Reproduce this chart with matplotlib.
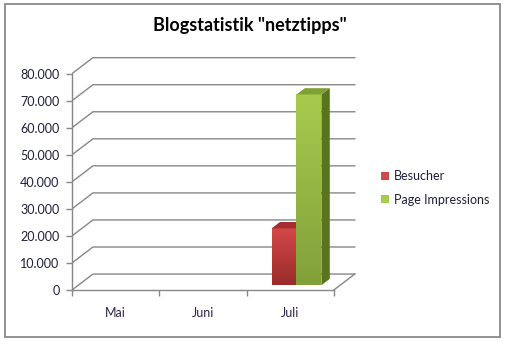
import numpy as np
import matplotlib
matplotlib.use("Agg")
import matplotlib.pyplot as plt
from matplotlib.patches import Polygon, Rectangle, Patch
from matplotlib.colors import LinearSegmentedColormap

# Daten
monate = ["Mai", "Juni", "Juli"]
besucher = [0, 0, 21000]
page_impressions = [0, 0, 70500]
serien = ["Besucher", "Page Impressions"]
y_ticks = [0, 10000, 20000, 30000, 40000, 50000, 60000, 70000, 80000]

plt.rcParams["font.family"] = ["Lato", "DejaVu Sans"]
text_farbe = "#1f1f3a"
grid_farbe = "#878787"

fig = plt.figure(figsize=(5.09, 3.44), dpi=100)
W, H = 509, 344

# Rahmen um das Diagramm
fig.patches.append(Rectangle((5 / W, 7 / H), 495 / W, 333 / H, transform=fig.transFigure,
                             fill=False, edgecolor="#888888", linewidth=1.3))

fig.text(250 / W, 1 - 25 / H, 'Blogstatistik "netztipps"', ha="center", va="center",
         fontsize=13, fontweight="bold", color="black")

# Achse: 0..3 Kategorien auf der Vorderkante, Tiefe als Versatz
ax = fig.add_axes([72 / W, 54 / H, 288 / W, 238 / H])
ax.set_xlim(0, 3.3)
ax.set_ylim(0, 88000)
ax.patch.set_alpha(0)

ddx, ddy = 0.24, 5900   # Versatz der Rueckwand

for s in ["top", "right"]:
    ax.spines[s].set_visible(False)
for s in ["left", "bottom"]:
    ax.spines[s].set_color(grid_farbe)
    ax.spines[s].set_linewidth(1.0)
ax.spines["left"].set_bounds(0, 80000)
ax.spines["bottom"].set_bounds(0, 3)

ax.set_yticks(y_ticks)
ax.set_yticklabels([f"{v:,}".replace(",", ".") for v in y_ticks])
ax.tick_params(axis="y", direction="out", length=4, width=1, color=grid_farbe,
               labelsize=9, labelcolor=text_farbe, pad=5)
ax.set_xticks(range(len(monate) + 1))
ax.set_xticklabels([])
ax.tick_params(axis="x", which="major", direction="out", length=4.5, width=1, color=grid_farbe)
ax.set_xticks([i + 0.5 for i in range(len(monate))], minor=True)
ax.set_xticklabels(monate, minor=True)
ax.tick_params(axis="x", which="minor", length=0, labelsize=9, labelcolor="#2e2445", pad=12)

# Gitterlinien: linke Wand + Rueckwand
for v in y_ticks:
    ax.plot([0, ddx, 3 + ddx], [v, v + ddy, v + ddy], color=grid_farbe, lw=1.0,
            solid_joinstyle="miter", zorder=1)
# Boden rechts
ax.plot([3, 3 + ddx], [0, ddy], color=grid_farbe, lw=1.0, zorder=1)

# Saeulen
breite = 1 / 3.5
d0, d1 = 0.3, 0.7
farben = [
    {"oben": "#d24848", "unten": "#9c2b2b", "deckel": "#a42d2f", "seite": "#7a2020"},
    {"oben": "#a8cb4e", "unten": "#82a03a", "deckel": "#7fa234", "seite": "#58741f"},
]
werte = [besucher, page_impressions]

for k, (reihe, f) in enumerate(zip(werte, farben)):
    for i, v in enumerate(reihe):
        if v <= 0:
            continue
        x0 = i + 0.5 - breite + k * breite + d0 * ddx
        x1 = x0 + breite
        y0 = d0 * ddy
        y1 = v + d0 * ddy
        tx = (d1 - d0) * ddx
        ty = (d1 - d0) * ddy
        cmap = LinearSegmentedColormap.from_list("g", [f["unten"], f["oben"]])
        grad = np.linspace(0, 1, 100).reshape(-1, 1)
        ax.imshow(grad, extent=[x0, x1, y0, y1], origin="lower", aspect="auto",
                  cmap=cmap, zorder=3 + k)
        ax.add_patch(Polygon([[x0, y1], [x1, y1], [x1 + tx, y1 + ty], [x0 + tx, y1 + ty]],
                             closed=True, facecolor=f["deckel"], edgecolor="none", zorder=3 + k))
        ax.add_patch(Polygon([[x1, y0], [x1 + tx, y0 + ty], [x1 + tx, y1 + ty], [x1, y1]],
                             closed=True, facecolor=f["seite"], edgecolor="none", zorder=3 + k))

ax.set_xlim(0, 3.3)
ax.set_ylim(0, 88000)

handles = [Patch(facecolor=farben[0]["oben"]), Patch(facecolor=farben[1]["oben"])]
fig.legend(handles, serien, loc="center left", bbox_to_anchor=(370 / W, 1 - 188 / H),
           frameon=False, fontsize=9, handlelength=0.65, handleheight=0.65,
           handletextpad=0.35, labelspacing=0.9, labelcolor=text_farbe)

fig.savefig("out.png", dpi=100)
